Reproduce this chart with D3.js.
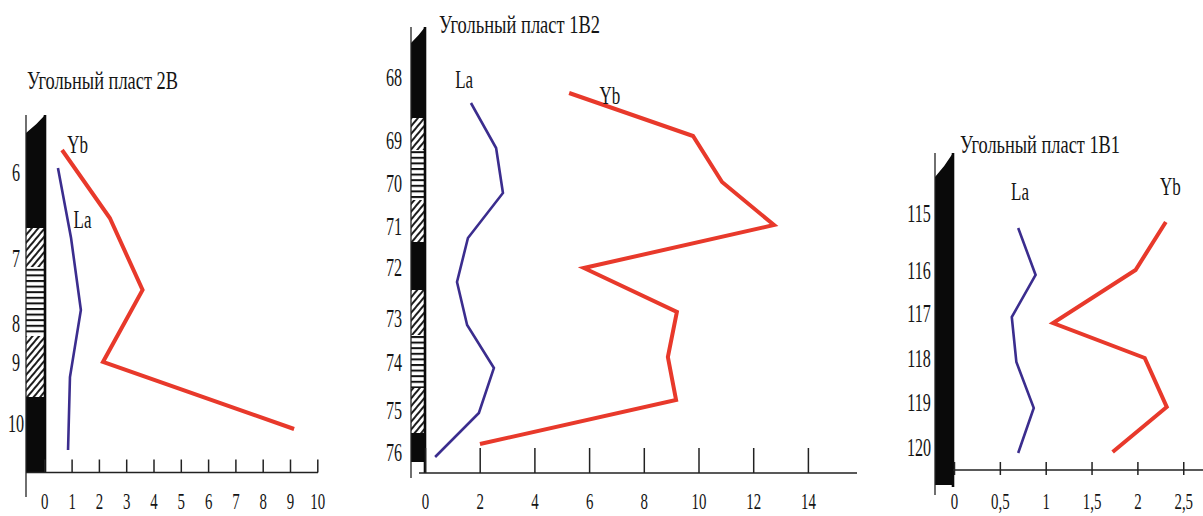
<!DOCTYPE html>
<html>
<head>
<meta charset="utf-8">
<script src="https://cdn.jsdelivr.net/npm/d3@7"></script>
<style>
  body { margin: 0; background: #fff; }
  svg { display: block; }
  text { font-family: "Liberation Serif", "Times New Roman", serif; fill: #151515; }
</style>
</head>
<body>
<div id="chart"></div>
<script>
// ---- data (depth in section units from top of column, values in ppm) ----
const titles = ["Угольный пласт 2B", "Угольный пласт 1B2", "Угольный пласт 1B1"];

const sampleLabels2B = ["6", "7", "8", "9", "10"];
const sampleDepth2B = [5.7, 14.3, 20.8, 24.7, 30.8];
const laDepth2B = [5.3, 12.3, 19.5, 26.2, 33.5];
const la2B = [0.5, 0.98, 1.34, 0.94, 0.87];
const ybDepth2B = [3.5, 10.3, 17.5, 24.7, 31.4];
const yb2B = [0.65, 2.4, 3.6, 2.15, 9.15];
const xTicks2B = [0, 1, 2, 3, 4, 5, 6, 7, 8, 9, 10];
const litho2B = [["coal", 0, 11.3], ["sand", 11.3, 15.2], ["silt", 15.2, 22.1], ["sand", 22.1, 28.2], ["coal", 28.2, 35.7]];

const sampleLabels1B2 = ["68", "69", "70", "71", "72", "73", "74", "75", "76"];
const sampleDepth1B2 = [5.0, 11.3, 15.6, 19.9, 24.0, 29.1, 33.5, 38.3, 42.5];
const laDepth1B2 = [7.6, 12.1, 16.6, 21.1, 25.5, 29.8, 34.1, 38.6, 43.0];
const la1B2 = [1.68, 2.6, 2.85, 1.57, 1.17, 1.54, 2.52, 1.97, 0.37];
const ybDepth1B2 = [6.6, 10.9, 15.5, 19.8, 24.1, 28.5, 33.0, 37.3, 41.7];
const yb1B2 = [5.27, 9.8, 10.86, 12.76, 5.81, 9.21, 8.88, 9.18, 2.01];
const xTicks1B2 = [0, 2, 4, 6, 8, 10, 12, 14];
const litho1B2 = [["coal", 0, 9.1], ["sand", 9.1, 12.3], ["silt", 12.3, 17.3], ["sand", 17.3, 21.5], ["coal", 21.5, 26.3],
                  ["sand", 26.3, 30.8], ["silt", 30.8, 36.1], ["sand", 36.1, 40.6], ["coal", 40.6, 43.5]];

const sampleLabels1B1 = ["115", "116", "117", "118", "119", "120"];
const sampleDepth1B1 = [6.0, 11.7, 16.0, 20.5, 24.9, 29.4];
const laDepth1B1 = [7.5, 12.2, 16.4, 20.9, 25.5, 30.0];
const la1B1 = [0.7, 0.89, 0.63, 0.68, 0.87, 0.7];
const ybDepth1B1 = [6.9, 11.7, 17.0, 20.5, 25.4, 29.9];
const yb1B1 = [2.31, 1.98, 1.08, 2.08, 2.32, 1.73];
const xTicks1B1 = [0, 0.5, 1, 1.5, 2, 2.5];
const litho1B1 = [["coal", 0, 33.2]];

// ---- layout ----
const panels = [
  {
    title: titles[0], titleX: 27, titleY: 89, titleW: 151,
    labels: sampleLabels2B, labelDepth: sampleDepth2B,
    la: la2B.map((v, i) => ({v, d: laDepth2B[i]})),
    yb: yb2B.map((v, i) => ({v, d: ybDepth2B[i]})),
    ticks: xTicks2B, litho: litho2B,
    laTag: {v: 1.40, d: 11.3}, ybTag: {v: 1.22, d: 3.8},
    xDomain: [0, 10], xRange: [44.3, 317.3],
    yDomain: [0, 35.7], yRange: [115, 472],
    colL: 26, colR: 45, slant: 18, leftBottom: 497, rightBottom: 472,
    axisY: 472.5, axisFrom: 26, axisTo: 318, tickUp: 13, tickDown: 0,
    labelX: 16, tickLabelY: 509, fmt: d => d
  },
  {
    title: titles[1], titleX: 439, titleY: 33, titleW: 161,
    labels: sampleLabels1B2, labelDepth: sampleDepth1B2,
    la: la1B2.map((v, i) => ({v, d: laDepth1B2[i]})),
    yb: yb1B2.map((v, i) => ({v, d: ybDepth1B2[i]})),
    ticks: xTicks1B2, litho: litho1B2,
    laTag: {v: 1.43, d: 6.1}, ybTag: {v: 6.76, d: 7.7},
    xDomain: [0, 14], xRange: [425, 807.9],
    yDomain: [0, 44.6], yRange: [27, 473],
    colL: 411, colR: 425, slant: 16, leftBottom: 478, rightBottom: 473,
    axisY: 473, axisFrom: 419, axisTo: 857, tickUp: 25, tickDown: 0,
    labelX: 394, tickLabelY: 509, fmt: d => d
  },
  {
    title: titles[2], titleX: 960, titleY: 153, titleW: 160,
    labels: sampleLabels1B1, labelDepth: sampleDepth1B1,
    la: la1B1.map((v, i) => ({v, d: laDepth1B1[i]})),
    yb: yb1B1.map((v, i) => ({v, d: ybDepth1B1[i]})),
    ticks: xTicks1B1, litho: litho1B1,
    laTag: {v: 0.72, d: 4.7}, ybTag: {v: 2.36, d: 4.2},
    xDomain: [0, 2.5], xRange: [954, 1183.25],
    yDomain: [0, 31.7], yRange: [153, 470],
    colL: 935, colR: 953, slant: 24, leftBottom: 495, rightBottom: 487,
    axisY: 470, axisFrom: 953, axisTo: 1203, tickUp: 8, tickDown: 5,
    labelX: 919, tickLabelY: 509, fmt: d => String(d).replace(".", ",")
  }
];

const sx = 0.62;
const red = "#e8392b";
const blue = "#3b2d8e";

const svg = d3.select("#chart").append("svg")
  .attr("width", 1203)
  .attr("height", 516);

const defs = svg.append("defs");

defs.append("pattern")
  .attr("id", "sand")
  .attr("patternUnits", "userSpaceOnUse")
  .attr("width", 5).attr("height", 5)
  .attr("patternTransform", "rotate(40)")
  .call(p => {
    p.append("rect").attr("width", 5).attr("height", 5).attr("fill", "#fff");
    p.append("line").attr("x1", 1).attr("x2", 1).attr("y1", 0).attr("y2", 5)
      .attr("stroke", "#111").attr("stroke-width", 1.9);
  });

defs.append("pattern")
  .attr("id", "silt")
  .attr("patternUnits", "userSpaceOnUse")
  .attr("width", 10).attr("height", 5.6)
  .call(p => {
    p.append("rect").attr("width", 10).attr("height", 5.6).attr("fill", "#fff");
    p.append("rect").attr("y", 0).attr("width", 10).attr("height", 2).attr("fill", "#111");
  });

const fills = {coal: "#0a0a0a", sand: "url(#sand)", silt: "url(#silt)"};

panels.forEach(cfg => {
  const g = svg.append("g");

  const x = d3.scaleLinear().domain(cfg.xDomain).range(cfg.xRange);
  const y = d3.scaleLinear().domain(cfg.yDomain).range(cfg.yRange);

  // title
  g.append("text")
    .attr("x", cfg.titleX)
    .attr("y", cfg.titleY)
    .attr("textLength", cfg.titleW)
    .attr("lengthAdjust", "spacingAndGlyphs")
    .style("font-size", "25px")
    .text(cfg.title);

  // lithology column
  const w = cfg.colR - cfg.colL;
  cfg.litho.forEach((s, i) => {
    const y0 = y(s[1]), y1 = y(s[2]);
    if (i === 0) {
      g.append("path")
        .attr("d", `M${cfg.colL},${y1} L${cfg.colL},${y0 + cfg.slant} Q${cfg.colL + w * 0.55},${y0 + cfg.slant * 0.55} ${cfg.colR},${y0} L${cfg.colR},${y1} Z`)
        .attr("fill", fills[s[0]]);
    } else {
      g.append("rect")
        .attr("x", cfg.colL).attr("y", y0)
        .attr("width", w).attr("height", y1 - y0)
        .attr("fill", fills[s[0]]);
    }
  });

  g.append("line")
    .attr("x1", cfg.colL).attr("x2", cfg.colL)
    .attr("y1", y(0)).attr("y2", cfg.leftBottom)
    .attr("stroke", "#222").attr("stroke-width", 1.3);

  g.append("line")
    .attr("x1", cfg.colR).attr("x2", cfg.colR)
    .attr("y1", y(0)).attr("y2", cfg.rightBottom)
    .attr("stroke", "#0a0a0a").attr("stroke-width", 2.6);

  // sample numbers
  const yAxis = d3.axisLeft(y)
    .tickValues(cfg.labelDepth)
    .tickFormat((d, i) => cfg.labels[i])
    .tickSize(0);

  g.append("g")
    .attr("transform", `translate(${cfg.labelX},0)`)
    .call(yAxis)
    .call(a => a.select(".domain").remove())
    .call(a => a.selectAll("text")
      .attr("x", 0)
      .attr("dy", "0.34em")
      .attr("text-anchor", "middle")
      .attr("transform", `scale(${sx},1)`)
      .style("font-family", "Liberation Serif")
      .style("font-size", "26px")
      .attr("fill", "#151515"));

  // x axis
  const xAxis = d3.axisBottom(x)
    .tickValues(cfg.ticks)
    .tickFormat(cfg.fmt)
    .tickSizeOuter(0);

  g.append("g")
    .attr("transform", `translate(0,${cfg.axisY})`)
    .call(xAxis)
    .call(a => a.select(".domain").remove())
    .call(a => a.selectAll(".tick line")
      .attr("y1", cfg.tickDown)
      .attr("y2", -cfg.tickUp)
      .attr("stroke", "#222")
      .attr("stroke-width", 1.5))
    .call(a => a.selectAll("text")
      .attr("y", cfg.tickLabelY - cfg.axisY)
      .attr("dy", 0)
      .attr("transform", `scale(${sx},1)`)
      .style("font-family", "Liberation Serif")
      .style("font-size", "24px")
      .attr("fill", "#151515"));

  g.append("line")
    .attr("x1", cfg.axisFrom).attr("x2", cfg.axisTo)
    .attr("y1", cfg.axisY).attr("y2", cfg.axisY)
    .attr("stroke", "#222").attr("stroke-width", 1.6);

  // series
  const line = d3.line().x(d => x(d.v)).y(d => y(d.d));

  g.append("path")
    .datum(cfg.la)
    .attr("d", line)
    .attr("fill", "none")
    .attr("stroke", blue)
    .attr("stroke-width", 2.6);

  g.append("path")
    .datum(cfg.yb)
    .attr("d", line)
    .attr("fill", "none")
    .attr("stroke", red)
    .attr("stroke-width", 4);

  [["La", cfg.laTag], ["Yb", cfg.ybTag]].forEach(([name, p]) => {
    g.append("text")
      .attr("transform", `translate(${x(p.v)},${y(p.d)}) scale(0.68,1)`)
      .attr("text-anchor", "middle")
      .style("font-size", "25px")
      .text(name);
  });
});
</script>
</body>
</html>
